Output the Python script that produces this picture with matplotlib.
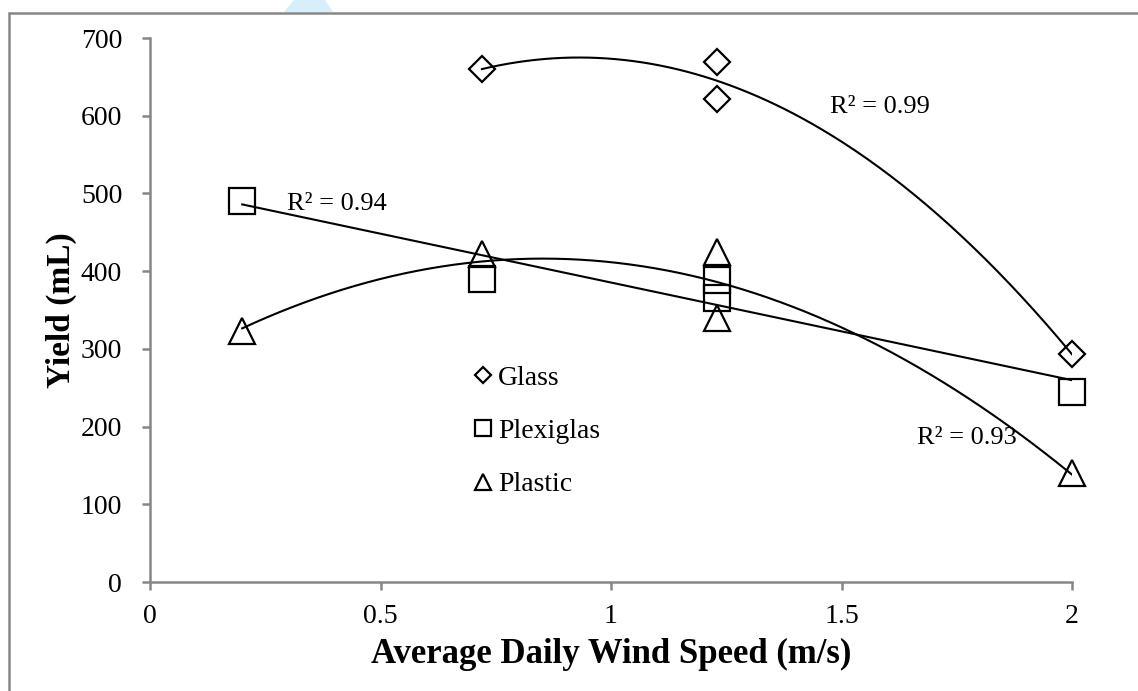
import numpy as np
import matplotlib
matplotlib.use("Agg")
import matplotlib.pyplot as plt
from matplotlib.patches import Rectangle, Polygon

plt.rcParams['font.family'] = ['Liberation Serif', 'DejaVu Serif']

# data
glass_x = [0.72, 1.23, 1.23, 2.0]
glass_y = [660, 669, 621, 293]
plexi_x = [0.2, 0.72, 1.23, 1.23, 2.0]
plexi_y = [490, 390, 389, 365, 245]
plastic_x = [0.2, 0.72, 1.23, 1.23, 2.0]
plastic_y = [323, 422, 424, 340, 140]

r2_labels = ['R² = 0.99', 'R² = 0.94', 'R² = 0.93']

gray = '#868686'

fig = plt.figure(figsize=(11.38, 6.91), dpi=100)
ax = fig.add_axes([150 / 1138, 1 - 582 / 691, 922 / 1138, 544 / 691])

# outer chart border (only left/top visible in the crop)
fig.patches.append(Rectangle((9 / 1138, -0.1), 1.2, 1 - 13 / 691 + 0.1,
                             transform=fig.transFigure, fill=False,
                             edgecolor=gray, lw=1.8))
# light blue fragment at the top edge
fig.patches.append(Polygon([(284 / 1138, 1 - 12 / 691), (333 / 1138, 1 - 12 / 691),
                            (325 / 1138, 1.0), (294 / 1138, 1.0)],
                           closed=True, transform=fig.transFigure,
                           facecolor='#d6effb', edgecolor='none'))

# trendlines
def trend(xs, ys, deg):
    c = np.polyfit(xs, ys, deg)
    xx = np.linspace(min(xs), max(xs), 200)
    return xx, np.polyval(c, xx)

for xs, ys, deg in [(glass_x, glass_y, 2), (plexi_x, plexi_y, 1), (plastic_x, plastic_y, 2)]:
    xx, yy = trend(xs, ys, deg)
    ax.plot(xx, yy, color='black', lw=1.5, zorder=2)

mk = dict(linestyle='none', markerfacecolor='none', markeredgecolor='black',
          markeredgewidth=1.6, zorder=3, clip_on=False)
ax.plot(glass_x, glass_y, marker='D', markersize=13.5, label='Glass', **mk)
ax.plot(plexi_x, plexi_y, marker='s', markersize=19, label='Plexiglas', **mk)
ax.plot(plastic_x, plastic_y, marker='^', markersize=19, label='Plastic', **mk)

ax.text(1.475, 603, r2_labels[0], fontsize=19)
ax.text(0.297, 479, r2_labels[1], fontsize=19)
ax.text(1.664, 178, r2_labels[2], fontsize=19)

ax.set_xlim(0, 2)
ax.set_ylim(0, 700)
ax.set_xticks([0, 0.5, 1, 1.5, 2])
ax.set_xticklabels(['0', '0.5', '1', '1.5', '2'])
ax.set_yticks(range(0, 701, 100))
ax.tick_params(axis='both', direction='out', length=6, width=1.8, color=gray,
               labelsize=20)
ax.tick_params(axis='x', pad=10)
ax.tick_params(axis='y', pad=14)
for s in ['top', 'right']:
    ax.spines[s].set_visible(False)
for s in ['left', 'bottom']:
    ax.spines[s].set_color(gray)
    ax.spines[s].set_linewidth(1.8)

ax.set_xlabel('Average Daily Wind Speed (m/s)', fontsize=25, fontweight='bold', labelpad=6)
ax.set_ylabel('Yield (mL)', fontsize=24, fontweight='bold', labelpad=3)

leg = ax.legend(loc='upper left', bbox_to_anchor=(0.352, 0.398), frameon=False,
                fontsize=20, markerscale=0.6, handlelength=0.6, handletextpad=0.25,
                labelspacing=1.0, borderaxespad=0, borderpad=0)

fig.savefig('out.png', dpi=100)
